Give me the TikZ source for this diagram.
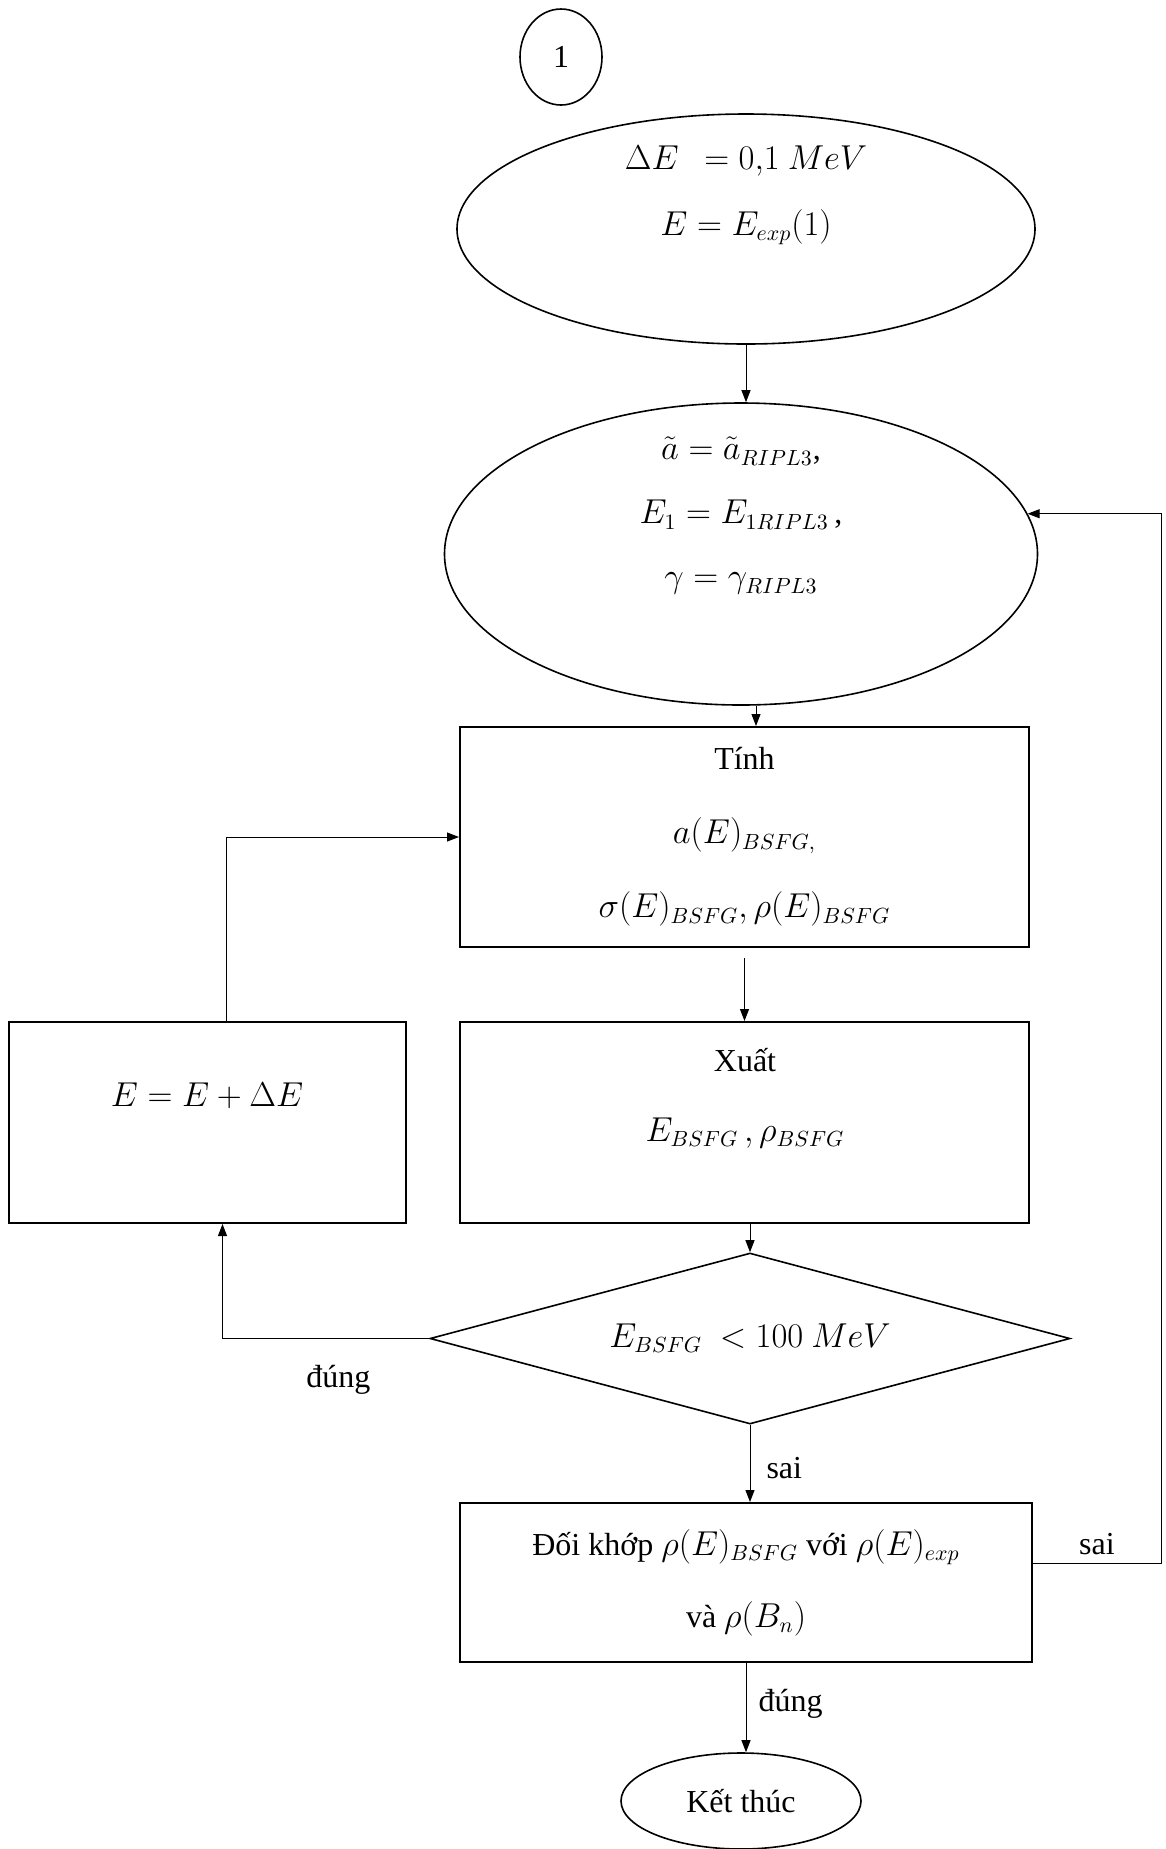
\documentclass[tikz,border=0pt]{standalone}
\usepackage{fontspec}
\setmainfont{Liberation Serif}
\usetikzlibrary{calc,shapes.geometric,arrows.meta}

\begin{document}
\begin{tikzpicture}[x=0.5pt, y=-0.5pt, >={Triangle[length=6pt,width=4.5pt]},
  font=\fontsize{16}{19}\selectfont,
  every node/.style={align=center, inner sep=0pt},
  oval/.style={ellipse, draw, line width=0.8pt},
  box/.style={rectangle, draw, line width=1pt},
  cond/.style={diamond, aspect=3.74, draw, line width=0.8pt},
  arr/.style={->, line width=0.5pt}]
\useasboundingbox (0,0) rectangle (1166,1849);

% shapes
\node[oval, minimum width=41pt, minimum height=48pt] (one) at (561,57) {1};
\node[oval, minimum width=289pt, minimum height=115pt] (init) at (746,229) {};
\node (initt) at (746,195) {$\Delta E\ \ = 0{,}1\ MeV$\\[14pt] $E = E_{exp}(1)$};
\node[oval, minimum width=296.5pt, minimum height=151pt] (param) at (741,554) {};
\node (paramt) at (741,516) {$\tilde{a} = \tilde{a}_{RIPL3}$,\\[13pt] $E_1 = E_{1RIPL3}\,$,\\[13pt] $\gamma = \gamma_{RIPL3}$};
\node[box, minimum width=284.5pt, minimum height=110pt] (calc) at (744.5,837)
  {Tính\\[18pt] $a(E)_{BSFG,}$\\[18pt] $\sigma(E)_{BSFG},\rho(E)_{BSFG}$};
\node[box, minimum width=284.5pt, minimum height=100.5pt] (out) at (744.5,1122.5) {};
\node (outt) at (745,1098) {Xuất\\[16pt] $E_{BSFG}\,,\rho_{BSFG}$};
\node[box, minimum width=198.5pt, minimum height=100.5pt] (incr) at (207.5,1122.5) {};
\node (incrt) at (207,1096) {$E = E + \Delta E$};
\node[cond, minimum width=320pt, minimum height=85.5pt] (dec) at (750,1338.5) {$E_{BSFG}\ < 100\ MeV$};
\node[box, minimum width=286pt, minimum height=79.5pt] (fit) at (746,1582.5)
  {Đối khớp $\rho(E)_{BSFG}$ với $\rho(E)_{exp}$\\[17pt] và $\rho(B_n)$};
\node[oval, minimum width=120pt, minimum height=48pt] (endn) at (741,1801) {Kết thúc};

% connectors
\draw[arr] (init.south) -- (init.south |- param.north);
\draw[arr] ($(param.south)+(15,0)$) coordinate (a2) -- (a2 |- calc.north);
\draw[arr, shorten <=5pt] (calc.south) -- (out.north);
\draw[arr] (out.south -| dec.north) -- (dec.north);
\draw[arr] (dec.south) -- node[pos=0.56, right=8pt] (no1) {sai} (dec.south |- fit.north);
\draw[arr] (fit.south) -- node[pos=0.46, right=6pt] (yes2) {đúng} (fit.south |- endn.north);
\draw[arr] (dec.west) -| node[pos=0.22, below=13pt] (yes1) {đúng} ($(incr.south)+(15,0)$);
\draw[arr] ($(incr.north)+(19,0)$) |- (calc.west);
\draw[arr] ($(fit.east)+(0,-19)$) -- node[above=4pt] (no2) {sai} ++(128,0) |- (param.8);
\end{tikzpicture}
\end{document}
